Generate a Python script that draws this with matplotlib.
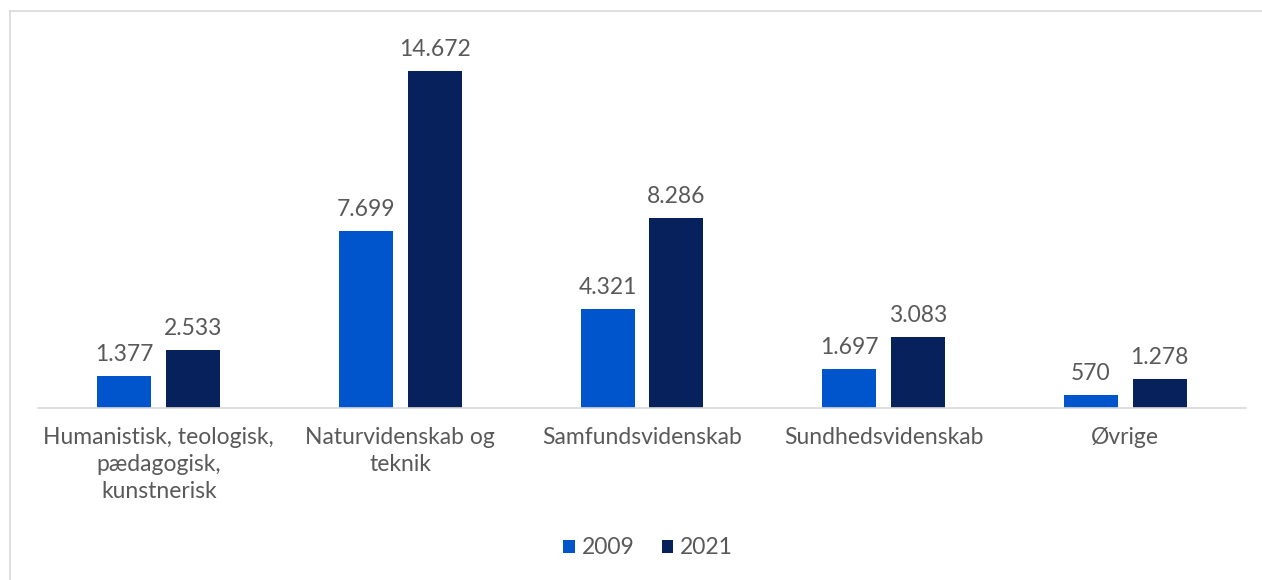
import matplotlib.pyplot as plt
import numpy as np
from matplotlib.lines import Line2D

plt.rcParams['font.family'] = ['Lato', 'DejaVu Sans']

categories = ['Humanistisk, teologisk,\npædagogisk,\nkunstnerisk',
              'Naturvidenskab og\nteknik',
              'Samfundsvidenskab',
              'Sundhedsvidenskab',
              'Øvrige']
values_2009 = [1377, 7699, 4321, 1697, 570]
values_2021 = [2533, 14672, 8286, 3083, 1278]
series_names = ['2009', '2021']

color_2009 = '#0055CC'
color_2021 = '#06215B'
text_color = '#595959'


def fmt(v):
    # Danish thousands separator
    return f'{v:,}'.replace(',', '.')


fig = plt.figure(figsize=(12.62, 5.80), dpi=100)
ax = fig.add_axes([38 / 1262, 172 / 580, 1208 / 1262, 367.5 / 580])

x = np.arange(len(categories))
w = 0.2235
off = (w + 0.062) / 2

b1 = ax.bar(x - off, values_2009, w, color=color_2009, label=series_names[0])
b2 = ax.bar(x + off, values_2021, w, color=color_2021, label=series_names[1])

for bars, vals in [(b1, values_2009), (b2, values_2021)]:
    for rect, v in zip(bars, vals):
        ax.annotate(fmt(v), (rect.get_x() + rect.get_width() / 2, v),
                    xytext=(0, 8), textcoords='offset points',
                    ha='center', va='bottom', fontsize=16.5, color=text_color)

ax.set_xlim(-0.5, len(categories) - 0.5)
ax.set_ylim(0, 16000)
ax.set_yticks([])
ax.set_xticks(x)
ax.set_xticklabels(categories, fontsize=16.5, color=text_color, linespacing=1.35)
ax.tick_params(axis='x', length=0, pad=14)
for s in ['top', 'right', 'left']:
    ax.spines[s].set_visible(False)
ax.spines['bottom'].set_color('#D9D9D9')
ax.spines['bottom'].set_linewidth(1.2)

leg = fig.legend(handles=[b1, b2], labels=series_names, loc='center',
                 bbox_to_anchor=(648 / 1262, 1 - 548 / 580), ncol=2,
                 frameon=False, fontsize=16.5, handlelength=0.5, handleheight=0.5,
                 handletextpad=0.3, columnspacing=1.2)
for t in leg.get_texts():
    t.set_color(text_color)

# light frame at top and left
fig.add_artist(Line2D([10 / 1262, 1], [1 - 11 / 580, 1 - 11 / 580],
                      transform=fig.transFigure, color='#D9D9D9', lw=1.2))
fig.add_artist(Line2D([10 / 1262, 10 / 1262], [0, 1 - 11 / 580],
                      transform=fig.transFigure, color='#D9D9D9', lw=1.2))

fig.savefig('out.png', dpi=100)
